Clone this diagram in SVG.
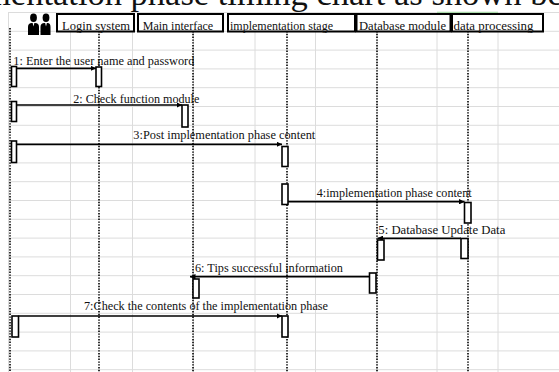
<svg xmlns="http://www.w3.org/2000/svg" width="559" height="372" viewBox="0 0 559 372">
<defs>
<style>
.grid line{stroke:#dcdcdc;stroke-width:1}
.life{stroke:#000;stroke-width:1.6;stroke-dasharray:1.4 1.4;fill:none}
.act{fill:#fff;stroke:#000;stroke-width:1.6}
.msg{stroke:#000;stroke-width:1.7;fill:none;marker-end:url(#ah)}
.lbl{font-family:"Liberation Serif","Times New Roman",serif;font-size:13.5px;fill:#111}
.hdr{font-family:"Liberation Serif","Times New Roman",serif;font-size:13.5px;fill:#111}
.hbox{fill:#fff;stroke:#000;stroke-width:2}
</style>
<marker id="ah" viewBox="0 0 6 6" refX="6" refY="3" markerWidth="5.5" markerHeight="5.5" markerUnits="userSpaceOnUse" orient="auto">
<path d="M0,0 L6,3 L0,6 Z" fill="#000"/>
</marker>
</defs>
<rect width="559" height="372" fill="#fff"/>
<text x="-16" y="4.5" font-family="Liberation Serif, Times New Roman, serif" font-size="34.5" fill="#111">mentation phase timing chart as shown below</text>
<g class="grid">
<line x1="8" y1="12.5" x2="559" y2="12.5"/>
<line x1="8" y1="31.3" x2="559" y2="31.3"/>
<line x1="8" y1="50.1" x2="559" y2="50.1"/>
<line x1="8" y1="68.9" x2="559" y2="68.9"/>
<line x1="8" y1="87.7" x2="559" y2="87.7"/>
<line x1="8" y1="106.5" x2="559" y2="106.5"/>
<line x1="8" y1="125.3" x2="559" y2="125.3"/>
<line x1="8" y1="144.1" x2="559" y2="144.1"/>
<line x1="8" y1="162.9" x2="559" y2="162.9"/>
<line x1="8" y1="181.7" x2="559" y2="181.7"/>
<line x1="8" y1="200.5" x2="559" y2="200.5"/>
<line x1="8" y1="219.3" x2="559" y2="219.3"/>
<line x1="8" y1="238.1" x2="559" y2="238.1"/>
<line x1="8" y1="256.9" x2="559" y2="256.9"/>
<line x1="8" y1="275.7" x2="559" y2="275.7"/>
<line x1="8" y1="294.5" x2="559" y2="294.5"/>
<line x1="8" y1="313.3" x2="559" y2="313.3"/>
<line x1="8" y1="332.1" x2="559" y2="332.1"/>
<line x1="8" y1="350.9" x2="559" y2="350.9"/>
<line x1="8" y1="369.7" x2="559" y2="369.7"/>
<line x1="8.5" y1="12.5" x2="8.5" y2="372"/>
<line x1="70.5" y1="12.5" x2="70.5" y2="372"/>
<line x1="132.5" y1="12.5" x2="132.5" y2="372"/>
<line x1="193.5" y1="12.5" x2="193.5" y2="372"/>
<line x1="255" y1="12.5" x2="255" y2="372"/>
<line x1="315.5" y1="12.5" x2="315.5" y2="372"/>
<line x1="377" y1="12.5" x2="377" y2="372"/>
<line x1="437" y1="12.5" x2="437" y2="372"/>
<line x1="498" y1="12.5" x2="498" y2="372"/>
</g>
<line x1="437" y1="12.5" x2="498" y2="12.5" stroke="#a9d8a9" stroke-width="1.5"/>
<g id="actor-icon">
<ellipse cx="33.5" cy="17.8" rx="3.4" ry="4.2" fill="#000"/>
<path d="M28,35 L28,27 Q28,23 32,23 L35,23 Q39,23 39,27 L39,35 Z" fill="#000"/>
<path d="M32.6,23 L33.5,26.5 L34.4,23 Z" fill="#fff"/>
<ellipse cx="46" cy="17.8" rx="3.4" ry="4.2" fill="#000"/>
<path d="M40.5,35 L40.5,27 Q40.5,23 44.5,23 L47.5,23 Q50.5,23 50.5,27 L50.5,35 Z" fill="#000"/>
<path d="M45.1,23 L46,26.5 L46.9,23 Z" fill="#fff"/>
<line x1="10" y1="28" x2="10" y2="372" class="life"/>
</g>
<g id="login-system">
<line x1="99" y1="31" x2="99" y2="372" class="life"/>
<rect x="57" y="14" width="77" height="17.5" class="hbox"/>
<text x="62" y="29.5" class="hdr" textLength="68" lengthAdjust="spacingAndGlyphs">Login system</text>
</g>
<g id="main-interface">
<line x1="193" y1="31" x2="193" y2="372" class="life"/>
<rect x="138" y="14" width="85" height="17.5" class="hbox"/>
<text x="142.7" y="29.5" class="hdr" textLength="70.5" lengthAdjust="spacingAndGlyphs">Main interface</text>
</g>
<g id="implementation-stage">
<line x1="287" y1="31" x2="287" y2="372" class="life"/>
<rect x="228" y="14" width="127" height="17.5" class="hbox"/>
<text x="230" y="29.5" class="hdr" textLength="103" lengthAdjust="spacingAndGlyphs">implementation stage</text>
</g>
<g id="database-module">
<line x1="377" y1="31" x2="377" y2="372" class="life"/>
<rect x="356.5" y="14" width="94" height="17.5" class="hbox"/>
<text x="359" y="29.5" class="hdr" textLength="87" lengthAdjust="spacingAndGlyphs">Database module</text>
</g>
<g id="data-processing">
<line x1="468" y1="31" x2="468" y2="372" class="life"/>
<rect x="452" y="14" width="91" height="17.5" class="hbox"/>
<text x="453.5" y="29.5" class="hdr" textLength="80" lengthAdjust="spacingAndGlyphs">data processing</text>
</g>
<g id="connectors">
<line x1="16.5" y1="68.3" x2="96" y2="68.3" class="msg"/>
<line x1="16.5" y1="105" x2="182" y2="105" class="msg"/>
<line x1="16.5" y1="144.3" x2="282" y2="144.3" class="msg"/>
<line x1="288" y1="201.7" x2="464.5" y2="201.7" class="msg"/>
<line x1="461" y1="238.3" x2="377.5" y2="238.3" class="msg"/>
<line x1="369.5" y1="276.7" x2="190" y2="276.7" class="msg"/>
<line x1="18.5" y1="316" x2="282" y2="316" class="msg"/>
</g>
<g id="activations">
<rect x="11.5" y="66.5" width="5" height="20" class="act"/>
<rect x="96" y="67" width="5.5" height="19.5" class="act"/>
<rect x="11.5" y="101.5" width="5" height="20" class="act"/>
<rect x="182" y="105" width="6" height="22" class="act"/>
<rect x="11.5" y="141" width="5" height="21.5" class="act"/>
<rect x="282" y="146.5" width="6" height="20" class="act"/>
<rect x="282" y="184" width="6" height="20.5" class="act"/>
<rect x="464.5" y="202.5" width="6.5" height="20.5" class="act"/>
<rect x="461" y="238.5" width="7" height="20" class="act"/>
<rect x="377.5" y="240" width="6.5" height="20" class="act"/>
<rect x="369.5" y="273" width="6.5" height="20" class="act"/>
<rect x="193" y="279" width="6" height="19" class="act"/>
<rect x="12" y="316" width="6.5" height="21" class="act"/>
<rect x="282" y="316" width="6" height="21" class="act"/>
</g>
<g id="labels">
<text x="13.3" y="65" class="lbl" textLength="181" lengthAdjust="spacingAndGlyphs">1: Enter the user name and password</text>
<text x="73.3" y="102.5" class="lbl" textLength="126" lengthAdjust="spacingAndGlyphs">2: Check function module</text>
<text x="133.3" y="139.3" class="lbl" textLength="182" lengthAdjust="spacingAndGlyphs">3:Post implementation phase content</text>
<text x="316.7" y="196.7" class="lbl" textLength="155" lengthAdjust="spacingAndGlyphs">4:implementation phase content</text>
<text x="378.3" y="234" class="lbl" textLength="127" lengthAdjust="spacingAndGlyphs">5: Database Update Data</text>
<text x="195" y="271.7" class="lbl" textLength="148" lengthAdjust="spacingAndGlyphs">6: Tips successful information</text>
<text x="84" y="310" class="lbl" textLength="244" lengthAdjust="spacingAndGlyphs">7:Check the contents of the implementation phase</text>
</g>
</svg>
